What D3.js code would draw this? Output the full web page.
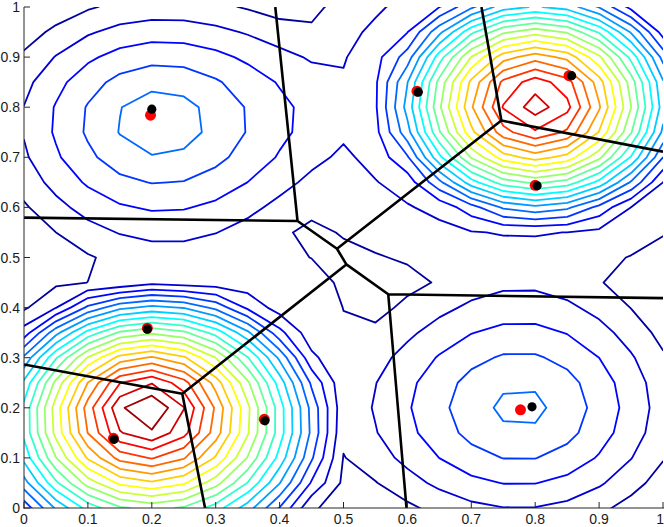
<!DOCTYPE html>
<html><head><meta charset="utf-8">
<script src="https://cdn.jsdelivr.net/npm/d3@7"></script>
<style>html,body{margin:0;padding:0;background:#fff;} svg{display:block;font-family:"Liberation Sans",Arial,sans-serif;}</style>
</head><body><svg id="chart" width="664" height="527"></svg>
<script>
// ---- data ----
// density surface = background + bumps, each a rounded (slightly lopsided) cone core plus a gaussian skirt
// bumps: bottom-left, top-right, top-left, bottom-right, saddle ridge
const coreX = [0.190, 0.805, 0.208, 0.780, 0.38];
const coreY = [0.197, 0.803, 0.772, 0.198, 0.42];
const coreHeight = [18.4, 13.9, 5.1, 4.75, 0];
const coreSlope = [75, 80, 20, 20, 0];
const coreRound = [0.05, 0.08, 0.05, 0.06, 0.05];
const coreSkewX = [0.06, 0, 0, 0, 0];
const coreSkewY = [-0.15, 0, 0, 0, 0];
const skirtX = [0.200, 0.790, 0.208, 0.780, 0.38];
const skirtY = [0.190, 0.830, 0.772, 0.198, 0.42];
const skirtHeight = [3.0, 6.0, 0.8, 0.8, 0.5];
const skirtWidthX = [0.21, 0.20, 0.25, 0.22, 0.10];
const skirtWidthY = [0.21, 0.20, 0.16, 0.20, 0.10];
const background = -0.35;
const gridStep = 0.05;               // 21 x 21 sampling grid
const levels = d3.range(1, 21);      // 20 contour levels
// true centres (red) and estimated centres (black)
const redX = [0.198, 0.615, 0.853, 0.800, 0.193, 0.140, 0.376, 0.777];
const redY = [0.784, 0.832, 0.863, 0.644, 0.359, 0.139, 0.177, 0.196];
const blackX = [0.200, 0.617, 0.857, 0.803, 0.193, 0.141, 0.377, 0.795];
const blackY = [0.796, 0.830, 0.863, 0.643, 0.357, 0.137, 0.174, 0.202];
const xTicks = [0, 0.1, 0.2, 0.3, 0.4, 0.5, 0.6, 0.7, 0.8, 0.9, 1];
const yTicks = [0, 0.1, 0.2, 0.3, 0.4, 0.5, 0.6, 0.7, 0.8, 0.9, 1];
const tickLabels = ["0", "0.1", "0.2", "0.3", "0.4", "0.5", "0.6", "0.7", "0.8", "0.9", "1"];

// ---- layout ----
const L = 24, R = 663, T = 7, B = 508;
const svg = d3.select("#chart");
const xs = d3.scaleLinear().domain([0, 1]).range([L, R]);
const ys = d3.scaleLinear().domain([0, 1]).range([B, T]);

function field(x, y) {
  let v = background;
  for (let i = 0; i < coreX.length; i++) {
    const dx = x - coreX[i], dy = y - coreY[i];
    const r = Math.sqrt(dx * dx + dy * dy);
    const c = coreRound[i];
    const skew = (coreSkewX[i] * dx + coreSkewY[i] * dy) * r / (r + 0.05);
    v += Math.max(0, coreHeight[i] - coreSlope[i] * (Math.sqrt(r * r + c * c) - c - skew));
    const ex = (x - skirtX[i]) ** 2 / (2 * skirtWidthX[i] ** 2);
    const ey = (y - skirtY[i]) ** 2 / (2 * skirtWidthY[i] ** 2);
    v += skirtHeight[i] * Math.exp(-(ex + ey));
  }
  return v;
}
const n = Math.round(1 / gridStep) + 1;
const values = new Array(n * n);
for (let j = 0; j < n; j++) for (let i = 0; i < n; i++) values[j * n + i] = field(i * gridStep, j * gridStep);

function jet(t) {
  const c = v => Math.max(0, Math.min(1, v));
  return d3.rgb(255 * c(1.5 - Math.abs(4 * t - 3)), 255 * c(1.5 - Math.abs(4 * t - 2)), 255 * c(1.5 - Math.abs(4 * t - 1))).formatHex();
}
const tScale = d3.scaleLinear().domain([1, 20]).range([0.03, 0.97]);

svg.append("defs").append("clipPath").attr("id", "plotclip")
  .append("rect").attr("x", L).attr("y", T).attr("width", R - L).attr("height", B - T);

const proj = d3.geoTransform({
  point(px, py) { this.stream.point(xs((px - 0.5) * gridStep), ys((py - 0.5) * gridStep)); }
});
const gpath = d3.geoPath(proj);
const contours = d3.contours().size([n, n]).thresholds(levels)(values);

const plot = svg.append("g").attr("clip-path", "url(#plotclip)");
plot.selectAll("path.ct").data(contours).join("path").attr("class", "ct")
  .attr("d", gpath).attr("fill", "none")
  .attr("stroke", d => jet(tScale(d.value)))
  .attr("stroke-width", 1.8).attr("stroke-linejoin", "round");

// Voronoi of the estimated centres
const pts = blackX.map((x, i) => [x, blackY[i]]);
const vor = d3.Delaunay.from(pts).voronoi([0, 0, 1, 1]);
const vp = d3.path();
vor.render({
  moveTo(x, y) { vp.moveTo(xs(x), ys(y)); },
  lineTo(x, y) { vp.lineTo(xs(x), ys(y)); },
  closePath() { vp.closePath(); }
});
plot.append("path").attr("d", vp.toString()).attr("fill", "none")
  .attr("stroke", "#000").attr("stroke-width", 2.6).attr("stroke-linejoin", "round");

// points
svg.append("g").selectAll("circle").data(redX).join("circle")
  .attr("cx", d => xs(d)).attr("cy", (d, i) => ys(redY[i])).attr("r", 5.5).attr("fill", "#ff0000");
svg.append("g").selectAll("circle").data(blackX).join("circle")
  .attr("cx", d => xs(d)).attr("cy", (d, i) => ys(blackY[i])).attr("r", 4.6).attr("fill", "#000");

// axes (MATLAB style: left + bottom, ticks inward)
const ax = svg.append("g").attr("stroke", "#262626").attr("stroke-width", 1);
ax.append("line").attr("x1", L).attr("x2", L).attr("y1", T).attr("y2", B + 0.5);
ax.append("line").attr("x1", L - 0.5).attr("x2", R + 1).attr("y1", B).attr("y2", B);
xTicks.forEach(t => ax.append("line").attr("x1", xs(t)).attr("x2", xs(t)).attr("y1", B).attr("y2", B - 6));
yTicks.forEach(t => ax.append("line").attr("x1", L).attr("x2", L + 6).attr("y1", ys(t)).attr("y2", ys(t)));
const lab = svg.append("g").attr("font-size", 14).attr("fill", "#1a1a1a");
xTicks.forEach((t, i) => lab.append("text").attr("x", i === xTicks.length - 1 ? 664 : xs(t)).attr("y", 524)
  .attr("text-anchor", i === xTicks.length - 1 ? "end" : "middle").text(tickLabels[i]));
yTicks.forEach((t, i) => lab.append("text").attr("x", 20).attr("y", ys(t) + 5).attr("text-anchor", "end").text(tickLabels[i]));
</script></body></html>
